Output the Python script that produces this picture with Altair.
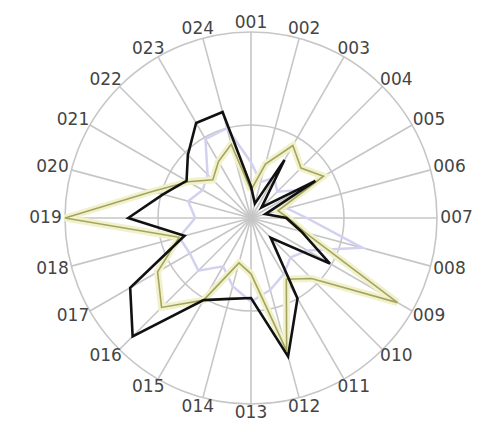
import altair as alt
import pandas as pd

categories = ["001", "002", "003", "004", "005", "006", "007", "008",
              "009", "010", "011", "012", "013", "014", "015", "016",
              "017", "018", "019", "020", "021", "022", "023", "024"]

black = [0.17, 0.08, 0.36, 0.08, 0.40, 0.08, 0.19, 0.28,
         0.49, 0.15, 0.50, 0.77, 0.43, 0.45, 0.51, 0.90,
         0.75, 0.37, 0.66, 0.49, 0.40, 0.48, 0.59, 0.59]

olive = [0.15, 0.30, 0.45, 0.38, 0.45, 0.15, 0.20, 0.30,
         0.91, 0.46, 0.38, 0.74, 0.30, 0.25, 0.51, 0.68,
         0.58, 0.40, 1.00, 0.55, 0.39, 0.29, 0.35, 0.41]

lavender = [0.30, 0.20, 0.25, 0.20, 0.30, 0.20, 0.30, 0.62,
            0.35, 0.30, 0.35, 0.40, 0.45, 0.38, 0.30, 0.40,
            0.38, 0.40, 0.30, 0.35, 0.30, 0.33, 0.49, 0.50]

ring_levels = [0.5, 1.0]
label_rx, label_ry = 1.105, 1.05

W, H = 467, 417
PX = 186.0  # pixels per unit radius
CX, CY = 243.0, 210.0
xdom = [-CX / PX, (W - CX) / PX]
ydom = [-(H - CY) / PX, CY / PX]
xs = alt.Scale(domain=xdom, nice=False, zero=False)
ys = alt.Scale(domain=ydom, nice=False, zero=False)

n = len(categories)

rows = []
for name, vals in [("lavender", lavender), ("olive", olive), ("black", black)]:
    for i in range(n + 1):
        rows.append({"series": name, "idx": i, "cat": categories[i % n], "value": vals[i % n]})
series_df = pd.DataFrame(rows)

spoke_df = pd.DataFrame({"cat": categories, "idx": list(range(n)), "r": [1.0] * n})
label_df = pd.DataFrame({"cat": categories, "idx": list(range(n))})
ring_df = pd.DataFrame({"level": ring_levels, "c": [0.0] * len(ring_levels)})


def polar(chart, rfield):
    return chart.transform_calculate(
        ang=f"datum.idx * 2 * PI / {n}"
    ).transform_calculate(
        px=f"datum.{rfield} * sin(datum.ang)",
        py=f"datum.{rfield} * cos(datum.ang)",
        zx="0", zy="0",
    )


spokes = polar(alt.Chart(spoke_df), "r").mark_rule(color="#c6c6c6", strokeWidth=1.6).encode(
    x=alt.X("zx:Q", scale=xs, axis=None),
    y=alt.Y("zy:Q", scale=ys, axis=None),
    x2="px:Q", y2="py:Q",
)

rings = alt.Chart(ring_df).transform_calculate(
    sz=f"pow(2 * datum.level * {PX}, 2)"
).mark_point(shape="circle", filled=False, color="#c6c6c6", strokeWidth=1.6, opacity=1).encode(
    x=alt.X("c:Q", scale=xs, axis=None),
    y=alt.Y("c:Q", scale=ys, axis=None),
    size=alt.Size("sz:Q", scale=None, legend=None),
)


def series_line(name, color, width, opacity=1.0):
    return polar(alt.Chart(series_df).transform_filter(f"datum.series == '{name}'"), "value").mark_line(
        color=color, strokeWidth=width, opacity=opacity, strokeJoin="miter"
    ).encode(
        x=alt.X("px:Q", scale=xs, axis=None),
        y=alt.Y("py:Q", scale=ys, axis=None),
        order="idx:Q",
    )


lav = series_line("lavender", "#d2d2f0", 2.5)
olive_glow = series_line("olive", "#f1f1cc", 7)
olive_line = series_line("olive", "#a4a460", 1.6)
black_line = series_line("black", "#111111", 2.6)

labels = alt.Chart(label_df).transform_calculate(
    ang=f"datum.idx * 2 * PI / {n}"
).transform_calculate(
    px=f"{label_rx} * sin(datum.ang)",
    py=f"{label_ry} * cos(datum.ang)",
).mark_text(
    font="DejaVu Sans", fontSize=17, color="#444444", align="center", baseline="middle"
).encode(
    x=alt.X("px:Q", scale=xs, axis=None),
    y=alt.Y("py:Q", scale=ys, axis=None),
    text="cat:N",
)

chart = alt.layer(spokes, rings, lav, olive_glow, olive_line, black_line, labels).properties(
    width=W, height=H, padding=0, background="white",
    autosize=alt.AutoSizeParams(type="none")
).configure_view(strokeWidth=0)

chart.save("out.html", embed_options={"renderer": "svg", "actions": False})
